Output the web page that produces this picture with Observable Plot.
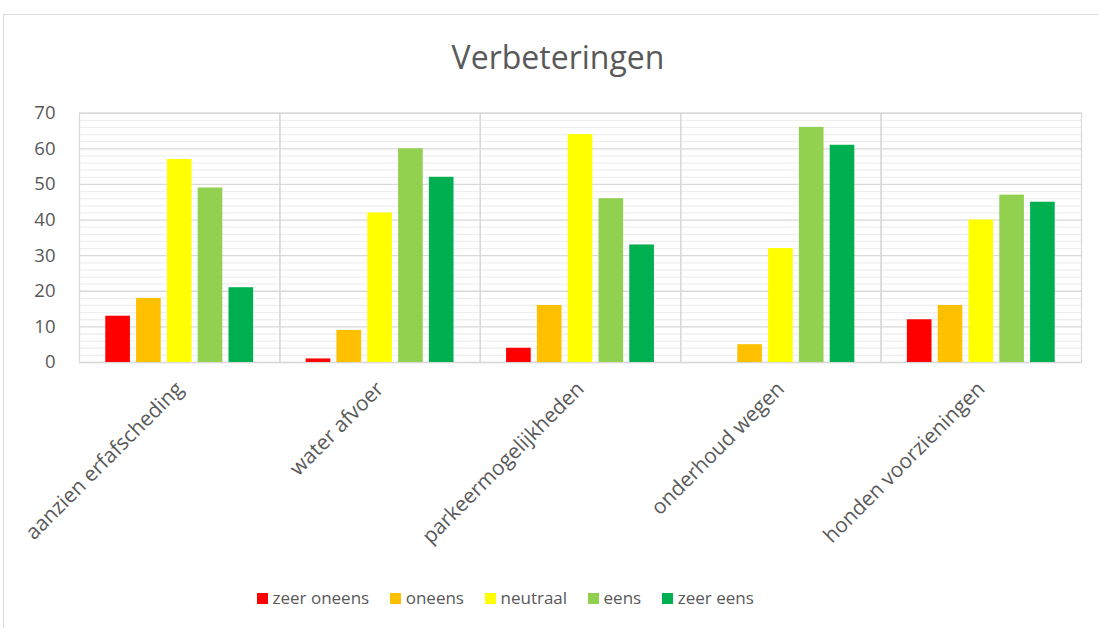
<!DOCTYPE html>
<html>
<head>
<meta charset="utf-8">
<script src="https://cdn.jsdelivr.net/npm/d3@7"></script>
<script src="https://cdn.jsdelivr.net/npm/@observablehq/plot@0.6"></script>
<style>
  body { margin: 0; background: #fff; }
  #wrap { position: relative; width: 1098px; height: 628px; overflow: hidden; font-family: "Open Sans", sans-serif; color: #595959; }
  #border { position: absolute; left: 3px; top: 14px; width: 1200px; height: 800px; border: 1px solid #d9d9d9; box-sizing: border-box; }
  #title { position: absolute; left: 0; width: 1116px; top: 35px; text-align: center; font-size: 32px; line-height: 44px; color: #595959; }
  #chart { position: absolute; left: 0; top: 90px; }
  #legend { position: absolute; left: 246.5px; top: 585px; display: flex; align-items: center; font-size: 17px; line-height: 26px; color: #595959; }
  .item { display: flex; align-items: center; margin: 0 10.5px; }
  .sw { width: 11px; height: 11px; margin-right: 4.5px; }
</style>
</head>
<body>
<div id="wrap">
  <div id="border"></div>
  <div id="title">Verbeteringen</div>
  <div id="chart"></div>
  <div id="legend"></div>
</div>
<script>
const categories = ["aanzien erfafscheding", "water afvoer", "parkeermogelijkheden", "onderhoud wegen", "honden voorzieningen"];
const series = ["zeer oneens", "oneens", "neutraal", "eens", "zeer eens"];
const colors = ["#FF0000", "#FFC000", "#FFFF00", "#92D050", "#00B050"];
const zeerOneens = [13, 1, 4, 0, 12];
const oneens     = [18, 9, 16, 5, 16];
const neutraal   = [57, 42, 64, 32, 40];
const eens       = [49, 60, 46, 66, 47];
const zeerEens   = [21, 52, 33, 61, 45];
const majorTicks = [0, 10, 20, 30, 40, 50, 60, 70];
const minorTicks = d3.range(0, 71, 2).filter(v => v % 10 !== 0);

const valuesBySeries = [zeerOneens, oneens, neutraal, eens, zeerEens];
const data = [];
categories.forEach((c, i) => {
  series.forEach((s, j) => data.push({cat: c, series: s, value: valuesBySeries[j][i]}));
});

const chart = Plot.plot({
  width: 1098,
  height: 480,
  marginLeft: 79,
  marginRight: 17,
  marginTop: 22.7,
  marginBottom: 208,
  style: {fontFamily: "'Open Sans', sans-serif", color: "#595959", background: "transparent"},
  fx: {domain: categories, padding: 0, round: false, label: null, axis: null},
  x: {domain: series, axis: null, round: false, paddingInner: 0.2, paddingOuter: 0.853},
  y: {domain: [0, 70], axis: null},
  color: {domain: series, range: colors},
  marks: [
    Plot.ruleY(minorTicks, {stroke: "#efefef", strokeWidth: 1.3}),
    Plot.ruleY(majorTicks, {stroke: "#d9d9d9", strokeWidth: 1.3}),
    Plot.frame({stroke: "#d9d9d9", strokeWidth: 1.3}),
    Plot.barY(data, {fx: "cat", x: "series", y: "value", fill: "series"}),
    Plot.axisY({ticks: majorTicks, tickSize: 0, tickPadding: 24, fontSize: 18.5, fill: "#595959", label: null}),
    Plot.axisFx({anchor: "bottom", tickRotate: -45, tickSize: 0, tickPadding: 23, fontSize: 20.8, fill: "#595959", label: null})
  ]
});
document.getElementById("chart").appendChild(chart);

const legend = d3.select("#legend");
series.forEach((s, i) => {
  const it = legend.append("div").attr("class", "item");
  it.append("div").attr("class", "sw").style("background", colors[i]);
  it.append("span").text(s);
});
</script>
</body>
</html>
